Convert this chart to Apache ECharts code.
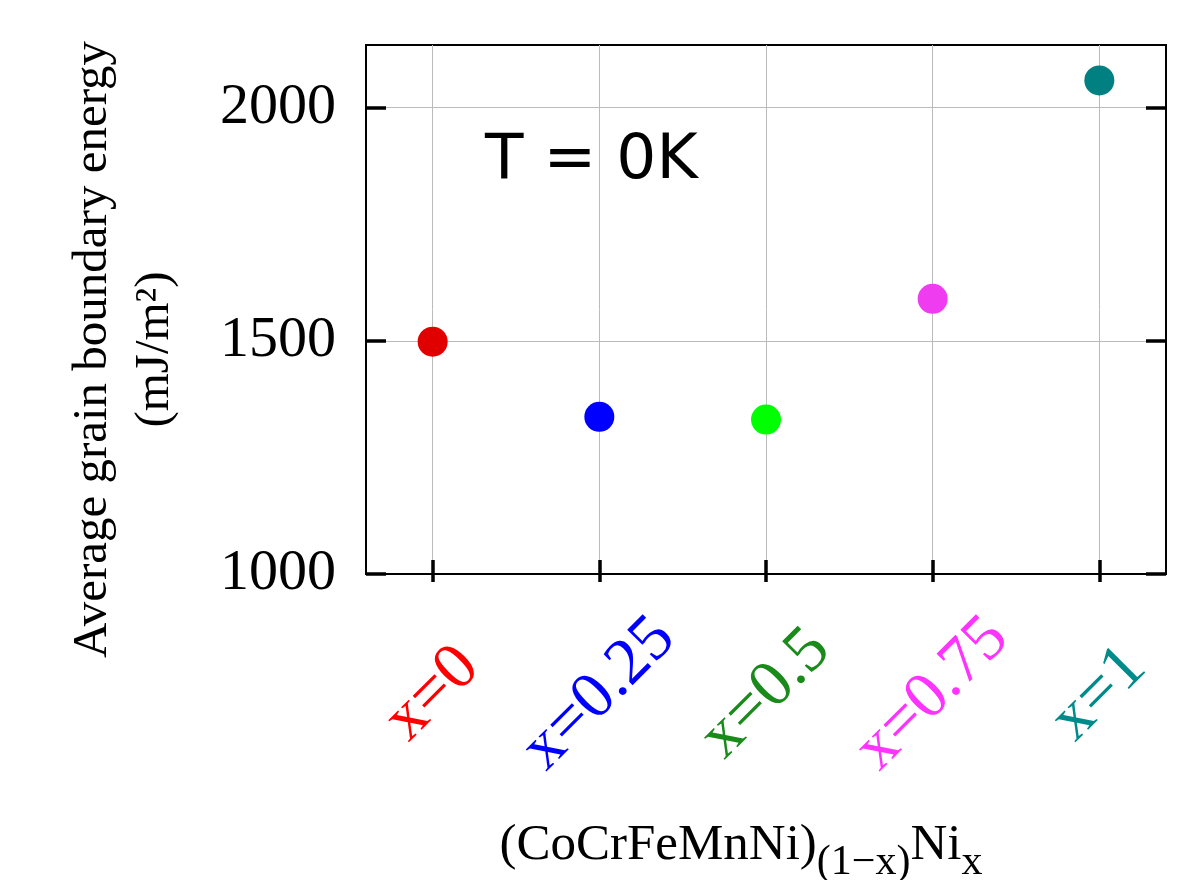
<!DOCTYPE html>
<html>
<head>
<meta charset="utf-8">
<script src="https://cdn.jsdelivr.net/npm/echarts@6/dist/echarts.min.js"></script>
<style>
  html, body { margin: 0; padding: 0; background: #fff; }
  #gb { width: 1203px; height: 880px; }
</style>
</head>
<body>
<div id="gb"></div>
<script>
var compositions = ['x=0', 'x=0.25', 'x=0.5', 'x=0.75', 'x=1'];
var energy = [1498, 1337, 1331, 1590, 2058];
var pointColors = ['#e00000', '#0000ff', '#00ff00', '#f03cf0', '#008080'];
var labelColors = ['#ff0000', '#0000ff', '#1a8a1a', '#ff33ff', '#008b8b'];
var yTicks = [1000, 1500, 2000];
var xTicks = [0, 1, 2, 3, 4];

var serif = "'Liberation Serif', 'Times New Roman', serif";
var myChart = echarts.init(document.getElementById('gb'));

var points = energy.map(function(v, i) {
	return { value: [xTicks[i], v], itemStyle: { color: pointColors[i], opacity: 1 } };
});

// second grid on the same rect only carries the inner x ticks and the right y axis
var frame = { left: 366, top: 45, right: 37, bottom: 306, outerBoundsMode: 'none' };
var tickLine = { color: '#000', width: 3.5 };

option = {
	animation: false,
	grid: [
		Object.assign({ show: true, borderColor: '#000', borderWidth: 2 }, frame),
		Object.assign({ show: false }, frame)
	],
	xAxis: [{
		gridIndex: 0,
		type: 'value',
		position: 'bottom',
		min: -0.4,
		max: 4.4,
		axisLine: { show: true, onZero: false, lineStyle: { color: '#000', width: 2 } },
		axisTick: { show: true, inside: false, length: 8, customValues: xTicks, lineStyle: tickLine },
		splitLine: { show: true, lineStyle: { color: '#bbbbbb', width: 1 } },
		axisLabel: {
			customValues: xTicks,
			rotate: 45,
			margin: 120,
			align: 'center',
			verticalAlign: 'middle',
			fontFamily: serif,
			fontSize: 66,
			color: function(value) { return labelColors[Math.round(value)]; },
			formatter: function(value) { return compositions[Math.round(value)]; }
		},
		name: '{m|(CoCrFeMnNi)}{s|(1\u2212x)}{m|Ni}{s|x}',
		nameLocation: 'middle',
		nameGap: 246,
		nameTextStyle: {
			padding: [0, 50, 0, 0],
			rich: {
				m: { fontFamily: serif, fontSize: 51, color: '#000', lineHeight: 60, verticalAlign: 'top' },
				s: { fontFamily: serif, fontSize: 42, color: '#000', lineHeight: 42, verticalAlign: 'top', padding: [22, 0, 0, 0] }
			}
		}
	}, {
		gridIndex: 1,
		type: 'value',
		position: 'bottom',
		min: -0.4,
		max: 4.4,
		axisLine: { show: false, onZero: false },
		axisTick: { show: true, inside: true, length: 14, customValues: xTicks, lineStyle: tickLine },
		splitLine: { show: false },
		axisLabel: { show: false }
	}],
	yAxis: [{
		gridIndex: 0,
		type: 'value',
		position: 'left',
		min: 1000,
		max: 2134,
		axisLine: { show: true, onZero: false, lineStyle: { color: '#000', width: 2 } },
		axisTick: { show: true, inside: true, length: 20, customValues: yTicks, lineStyle: tickLine },
		splitLine: { show: true, lineStyle: { color: '#bbbbbb', width: 1 } },
		axisLabel: {
			customValues: yTicks,
			margin: 30,
			fontFamily: serif,
			fontSize: 58,
			color: '#000',
			formatter: function(value) { return String(value); }
		},
		name: 'Average grain boundary energy\n(mJ/m\u00b2)',
		nameLocation: 'middle',
		nameRotate: 90,
		nameGap: 180,
		nameTextStyle: {
			fontFamily: serif,
			fontSize: 49,
			lineHeight: 62,
			color: '#000',
			padding: [0, 80, 0, 0]
		}
	}, {
		gridIndex: 1,
		type: 'value',
		position: 'right',
		min: 1000,
		max: 2134,
		axisLine: { show: true, onZero: false, lineStyle: { color: '#000', width: 2 } },
		axisTick: { show: true, inside: true, length: 20, customValues: yTicks, lineStyle: tickLine },
		splitLine: { show: false },
		axisLabel: { show: false }
	}],
	graphic: [{
		type: 'text',
		left: 485,
		top: 130,
		style: {
			text: 'T = 0K',
			font: "63px 'DejaVu Sans', sans-serif",
			fill: '#000'
		}
	}],
	series: [{
		type: 'scatter',
		xAxisIndex: 0,
		yAxisIndex: 0,
		symbol: 'circle',
		symbolSize: 30,
		data: points
	}]
};

myChart.setOption(option);
</script>
</body>
</html>
